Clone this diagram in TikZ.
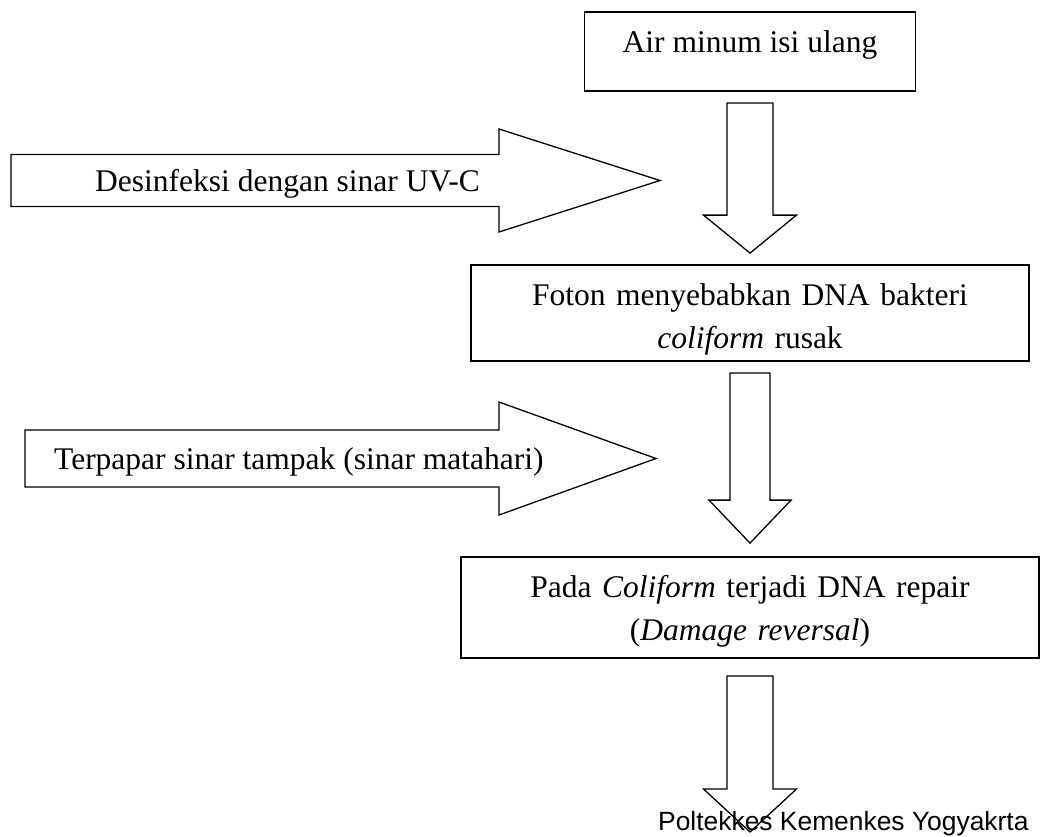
\documentclass[tikz,border=0pt]{standalone}
\usepackage{fontspec}
\setmainfont{Liberation Serif}
\newfontfamily\footerfont{Liberation Sans}
\usetikzlibrary{calc}

\tikzset{
	box/.style={draw=black, line width=1.8pt, inner sep=0pt},
	boxtext/.style={inner sep=0pt, align=center, font=\fontsize{31.5}{43}\selectfont},
	blockarrow/.style={draw=black, line width=1.3pt, fill=white},
}

% block arrows: #1 tail, #2 tip, #3 half shaft, #4 half head, #5 head length
\newcommand{\blockdown}[5]{%
	\draw[blockarrow] ($(#1)+(-#3,0)$) -- ($(#2)+(-#3,-#5)$) -- ($(#2)+(-#4,-#5)$) -- (#2)
		-- ($(#2)+(#4,-#5)$) -- ($(#2)+(#3,-#5)$) -- ($(#1)+(#3,0)$) -- cycle;}
\newcommand{\blockright}[5]{%
	\draw[blockarrow] ($(#1)+(0,-#3)$) -- ($(#2)+(-#5,-#3)$) -- ($(#2)+(-#5,-#4)$) -- (#2)
		-- ($(#2)+(-#5,#4)$) -- ($(#2)+(-#5,#3)$) -- ($(#1)+(0,#3)$) -- cycle;}

\begin{document}
\begin{tikzpicture}[x=1pt, y=-1pt]
	\useasboundingbox (0,0) rectangle (1041,836);

	\node[box, minimum width=331pt, minimum height=79pt]  (air)    at (750, 51.5)  {};
	\node[box, minimum width=558pt, minimum height=96pt]  (foton)  at (750, 313)   {};
	\node[box, minimum width=578pt, minimum height=101pt] (repair) at (750, 607.5) {};

	\coordinate (uvtail)  at (11, 180.5);
	\coordinate (uvtip)   at (660, 180.5);
	\coordinate (sunhtail) at (25, 458.5);
	\coordinate (sunhtip)  at (656, 458.5);
	\coordinate (endtip)  at (750, 832);

	\blockdown{$(air.south)+(0,11)$}{$(foton.north)+(0,-11)$}{23}{46.5}{38}
	\blockdown{$(foton.south)+(0,11)$}{$(repair.north)+(0,-13)$}{20}{41}{43}
	\blockdown{$(repair.south)+(0,17)$}{endtip}{23}{46.5}{43}
	\blockright{uvtail}{uvtip}{26}{51.5}{161}
	\blockright{sunhtail}{sunhtip}{28.5}{56.5}{157}

	\node[boxtext, anchor=base] (airtext) at (750, 52) {Air minum isi ulang};
	\node[boxtext, anchor=base, text width=540pt] (fotontext) at (750, 305)
		{Foton menyebabkan DNA bakteri\\\textit{coliform} rusak};
	\node[boxtext, anchor=base, text width=560pt] (repairtext) at (750, 597)
		{Pada \textit{Coliform} terjadi DNA repair\\(\textit{Damage reversal})};
	\node[boxtext, anchor=base west] (uvtext) at (95, 191) {Desinfeksi dengan sinar UV-C};
	\node[boxtext, anchor=base west] (suntext) at (54, 469) {Terpapar sinar tampak (sinar matahari)};

	\node[inner sep=0pt, anchor=base west, font=\footerfont\fontsize{26.4}{30}\selectfont]
		(footer) at (658, 830) {Poltekkes Kemenkes Yogyakrta};
\end{tikzpicture}
\end{document}
